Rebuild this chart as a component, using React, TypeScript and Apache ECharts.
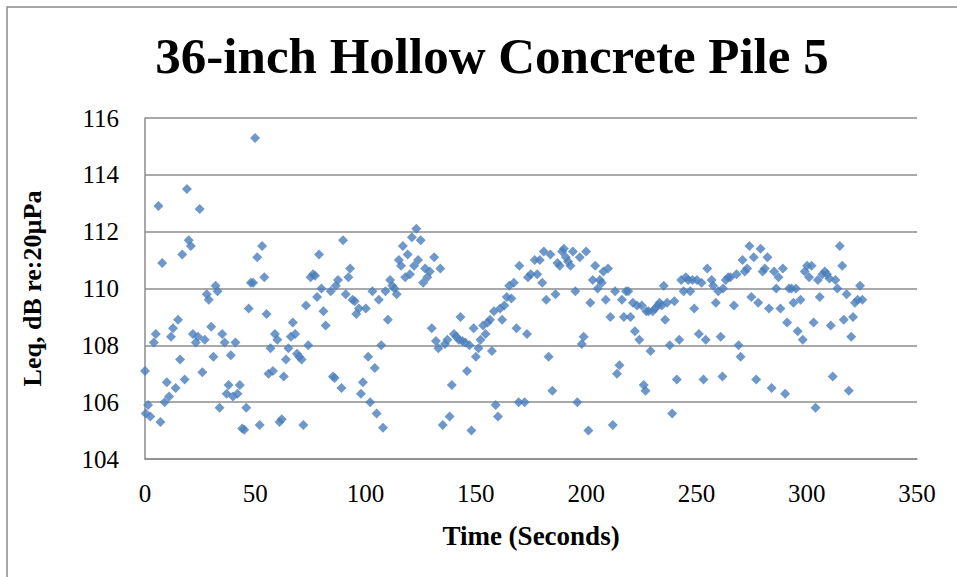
import React, { useEffect, useRef } from "react";
import * as echarts from "echarts";

const titleText = "36-inch Hollow Concrete Pile 5";
const xAxisName = "Time (Seconds)";
const yAxisName = "Leq, dB re:20µPa";

const timeSec: number[] = [
  0, 1.4, 0.3, 2.4, 4.0, 4.9, 6.1, 7.0, 7.8, 8.9, 9.9, 10.9, 11.8, 12.7, 13.9, 15.0, 15.9, 16.9, 18.0, 19.0,
  19.8, 20.8, 21.7, 23.0, 24.0, 24.8, 26.0, 27.1, 28.0, 28.9, 30.0, 31.0, 32.0, 32.9, 33.8, 35.0, 36.1, 37.0, 37.9, 38.9,
  39.9, 41.0, 41.9, 43.0, 44.1, 45.0, 45.9, 47.0, 48.0, 49.0, 49.9, 50.9, 52.0, 53.1, 54.1, 55.1, 56.0, 56.9, 58.0, 58.9,
  60.0, 61.0, 62.0, 62.9, 63.9, 65.0, 66.1, 67.0, 68.1, 68.9, 69.9, 71.0, 71.8, 73.0, 74.0, 75.1, 76.2, 77.1, 78.0, 78.9,
  80.0, 80.9, 81.9, 85.2, 86.0, 84.2, 87.5, 86.5, 89.1, 89.8, 91.0, 92.2, 93.0, 94.1, 95.1, 95.8, 97.0, 97.9, 98.8, 100.1,
  101.2, 102.1, 103.1, 104.2, 105.0, 106.0, 107.1, 107.9, 109.0, 110.1, 111.1, 112.1, 113.1, 114.1, 115.1, 116.1, 116.9, 118.0, 119.1, 120.1,
  121.0, 122.0, 123.0, 123.8, 125.0, 126.1, 127.0, 128.0, 129.1, 130.0, 131.1, 131.9, 133.0, 133.9, 135.0, 136.0, 137.1, 138.1, 139.1, 140.1,
  141.2, 142.3, 143.0, 143.9, 145.2, 146.0, 147.1, 148.0, 149.0, 150.0, 151.2, 152.1, 153.3, 154.4, 155.3, 156.4, 157.3, 158.2, 159.0, 160.0,
  161.0, 161.9, 162.9, 164.0, 165.1, 166.1, 167.2, 168.4, 169.4, 169.7, 172.1, 173.2, 173.6, 174.9, 176.7, 177.8, 179.0, 180.1, 180.8, 181.9,
  183.0, 183.8, 184.7, 186.1, 187.0, 188.0, 189.1, 189.9, 190.8, 191.8, 192.9, 194.0, 195.1, 196.0, 197.1, 198.0, 198.9, 200.0, 201.0, 201.9,
  203.0, 204.1, 205.2, 206.2, 207.1, 207.8, 208.9, 209.9, 211.0, 212.1, 213.1, 214.0, 215.1, 216.2, 217.1, 218.1, 219.1, 220.1, 221.2, 222.1,
  223.1, 224.1, 225.2, 226.1, 226.9, 227.3, 228.3, 229.2, 230.2, 231.3, 232.4, 233.3, 234.3, 235.2, 235.8, 236.7, 237.9, 239.0, 240.0, 241.1,
  242.2, 243.1, 244.2, 245.2, 246.3, 247.2, 248.2, 249.0, 250.2, 251.1, 252.3, 253.2, 254.2, 254.9, 256.9, 257.6, 258.8, 259.9, 261.0, 261.8,
  262.1, 263.3, 264.4, 265.4, 267.0, 268.2, 269.1, 270.0, 270.9, 271.9, 273.0, 274.0, 274.9, 276.0, 277.1, 278.0, 279.1, 280.0, 281.0, 282.2,
  282.9, 284.1, 285.2, 286.2, 287.2, 288.1, 289.2, 290.2, 291.1, 292.0, 293.1, 294.0, 295.1, 295.9, 297.2, 298.2, 299.1, 300.2, 301.1, 302.2,
  303.1, 304.0, 305.1, 305.9, 307.1, 308.2, 309.2, 310.3, 310.9, 311.8, 313.0, 313.9, 315.0, 316.1, 316.8, 318.1, 319.1, 320.2, 321.0, 321.9,
  323.1, 324.2, 325.2,
];

const leqDb: number[] = [
  107.1, 105.9, 105.6, 105.5, 108.1, 108.4, 112.9, 105.3, 110.9, 106.0, 106.7, 106.2, 108.3, 108.6, 106.5, 108.9, 107.5, 111.2, 106.8, 113.5,
  111.7, 111.5, 108.4, 108.1, 108.3, 112.8, 107.05, 108.2, 109.8, 109.6, 108.65, 107.6, 110.1, 109.9, 105.8, 108.4, 108.1, 106.3, 106.6, 107.65,
  106.2, 108.1, 106.3, 106.6, 105.07, 105.03, 105.8, 109.3, 110.2, 110.2, 115.3, 111.1, 105.2, 111.5, 110.4, 109.1, 107.0, 107.9, 107.1, 108.4,
  108.2, 105.3, 105.4, 106.9, 107.5, 107.9, 108.3, 108.8, 108.4, 107.7, 107.6, 107.5, 105.2, 109.4, 108.0, 110.4, 110.5, 110.45, 109.7, 111.2,
  110.0, 109.2, 108.7, 106.9, 106.85, 109.9, 110.3, 110.1, 106.5, 111.7, 109.8, 110.4, 110.7, 109.6, 109.55, 109.1, 109.3, 106.3, 106.7, 109.3,
  107.6, 106.0, 109.9, 107.2, 105.6, 109.6, 108.0, 105.1, 109.9, 108.9, 110.3, 110.1, 110.0, 109.8, 111.0, 110.8, 111.5, 110.4, 111.2, 110.5,
  111.8, 110.8, 112.1, 111.0, 111.7, 110.2, 110.7, 110.4, 110.6, 108.6, 111.1, 108.15, 107.9, 110.7, 105.2, 108.05, 108.2, 105.5, 106.6, 108.4,
  108.3, 108.2, 109.0, 108.15, 108.1, 107.1, 108.0, 105.0, 108.6, 107.6, 107.9, 108.2, 108.7, 108.4, 108.8, 108.9, 107.8, 109.2, 105.9, 105.5,
  109.3, 108.9, 109.4, 109.7, 110.1, 109.65, 110.2, 108.6, 106.0, 110.8, 106.0, 108.4, 110.4, 110.5, 111.0, 110.5, 111.0, 110.2, 111.3, 109.6,
  107.6, 111.2, 106.4, 109.8, 110.9, 110.8, 111.3, 111.4, 111.1, 110.95, 110.8, 111.3, 109.9, 106.0, 111.1, 108.05, 108.3, 111.3, 105.0, 109.5,
  110.3, 110.8, 110.0, 110.3, 110.2, 110.6, 109.6, 110.7, 109.0, 105.2, 109.9, 107.0, 107.3, 109.6, 109.0, 109.9, 109.9, 109.0, 109.5, 108.5,
  109.4, 108.2, 109.4, 106.6, 106.4, 109.2, 109.2, 107.8, 109.2, 109.3, 109.4, 109.5, 109.4, 110.1, 108.9, 109.5, 108.0, 105.6, 109.55, 106.8,
  108.2, 110.3, 109.9, 110.4, 110.3, 109.9, 110.3, 109.3, 110.3, 108.4, 110.2, 106.8, 108.2, 110.7, 110.3, 110.1, 109.5, 109.9, 108.3, 106.9,
  110.0, 110.3, 110.4, 110.4, 109.4, 110.5, 108.0, 107.6, 111.0, 110.6, 110.7, 111.5, 109.7, 111.1, 106.8, 109.5, 111.4, 110.6, 110.7, 111.1,
  109.3, 106.5, 110.6, 110.0, 110.4, 109.3, 110.7, 106.3, 108.8, 110.0, 110.0, 109.5, 110.0, 108.5, 109.6, 108.2, 110.6, 110.8, 110.4, 110.8,
  108.8, 105.8, 110.3, 109.7, 110.5, 110.6, 110.5, 110.35, 108.7, 106.9, 110.3, 110.0, 111.5, 110.8, 108.9, 109.8, 106.4, 108.3, 109.0, 109.5,
  109.6, 110.1, 109.6,
];

const serif = "'Liberation Serif', 'DejaVu Serif', serif";
const gridColor = "#8c8c8c";

export default function App() {
  const ref = useRef<HTMLDivElement>(null);
  useEffect(() => {
    if (!ref.current) return;
    const chart = echarts.init(ref.current, undefined, { renderer: "svg" });
    const points = timeSec.map((t, i) => [t, leqDb[i]]);
    chart.setOption({
      animation: false,
      backgroundColor: "#ffffff",
      title: {
        text: titleText,
        left: 487,
        textAlign: "center",
        top: 25,
        textStyle: { fontFamily: serif, fontWeight: "bold", fontSize: 51, color: "#000" },
      },
      graphic: [
        {
          type: "rect",
          shape: { x: 7, y: 7, width: 1000, height: 700 },
          style: { fill: "none", stroke: "#8a8a8a", lineWidth: 1.5 },
          silent: true,
        },
      ],
      grid: { left: 145, right: 40, top: 118, bottom: 118, containLabel: false },
      xAxis: {
        type: "value",
        min: 0,
        max: 350,
        interval: 50,
        name: xAxisName,
        nameLocation: "middle",
        nameGap: 63,
        nameTextStyle: { fontFamily: serif, fontWeight: "bold", fontSize: 27, color: "#000" },
        axisLine: { show: true, lineStyle: { color: gridColor, width: 1.5 } },
        axisTick: { show: false },
        splitLine: { show: false },
        axisLabel: { fontFamily: serif, fontSize: 25, color: "#000", margin: 22 },
      },
      yAxis: {
        type: "value",
        min: 104,
        max: 116,
        interval: 2,
        name: yAxisName,
        nameLocation: "middle",
        nameGap: 100,
        nameRotate: 90,
        nameTextStyle: { fontFamily: serif, fontWeight: "bold", fontSize: 26, color: "#000" },
        axisLine: { show: true, lineStyle: { color: gridColor, width: 1.5 } },
        axisTick: { show: false },
        splitLine: { show: true, lineStyle: { color: gridColor, width: 1.5 } },
        axisLabel: { fontFamily: serif, fontSize: 25, color: "#000", margin: 26 },
      },
      series: [
        {
          type: "scatter",
          data: points,
          symbol: "diamond",
          symbolSize: 10,
          itemStyle: { color: "#4a7ebb" },
        },
      ],
    });
    return () => chart.dispose();
  }, []);
  return (
    <div
      ref={ref}
      style={{ position: "fixed", left: 0, top: 0, width: 957, height: 577, background: "#fff" }}
    />
  );
}
